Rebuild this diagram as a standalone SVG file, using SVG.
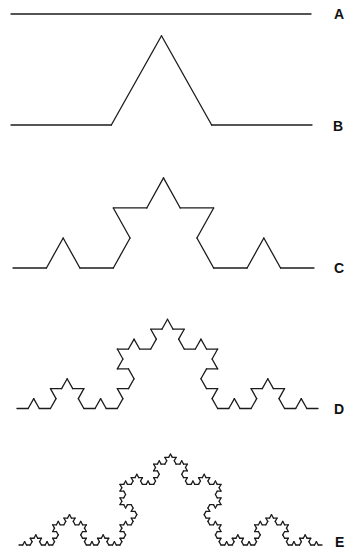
<svg xmlns="http://www.w3.org/2000/svg" xmlns:xlink="http://www.w3.org/1999/xlink" width="346" height="550" viewBox="0 0 346 550">
<style>
.seg{fill:none;stroke:#1c1c1c;stroke-width:1.3;stroke-linecap:round;vector-effect:non-scaling-stroke}
.lbl{font-family:"Liberation Sans",Arial,sans-serif;font-weight:bold;font-size:14px;fill:#111}
</style>
<defs>
<path id="k0" class="seg" d="M0 0H300"/>
<g id="k1">
<use href="#k0" transform="scale(0.333333)"/>
<use href="#k0" transform="translate(100 0) rotate(-60) scale(0.333333)"/>
<use href="#k0" transform="translate(150 -86.6025) rotate(60) scale(0.333333)"/>
<use href="#k0" transform="translate(200 0) scale(0.333333)"/>
</g>
<g id="k2">
<use href="#k1" transform="scale(0.333333)"/>
<use href="#k1" transform="translate(100 0) rotate(-60) scale(0.333333)"/>
<use href="#k1" transform="translate(150 -86.6025) rotate(60) scale(0.333333)"/>
<use href="#k1" transform="translate(200 0) scale(0.333333)"/>
</g>
<g id="k3">
<use href="#k2" transform="scale(0.333333)"/>
<use href="#k2" transform="translate(100 0) rotate(-60) scale(0.333333)"/>
<use href="#k2" transform="translate(150 -86.6025) rotate(60) scale(0.333333)"/>
<use href="#k2" transform="translate(200 0) scale(0.333333)"/>
</g>
<g id="k4">
<use href="#k3" transform="scale(0.333333)"/>
<use href="#k3" transform="translate(100 0) rotate(-60) scale(0.333333)"/>
<use href="#k3" transform="translate(150 -86.6025) rotate(60) scale(0.333333)"/>
<use href="#k3" transform="translate(200 0) scale(0.333333)"/>
</g>
</defs>
<rect width="346" height="550" fill="#fff"/>
<g id="curveA"><use href="#k0" transform="translate(11 14)"/><text class="lbl" x="334" y="19">A</text></g>
<g id="curveB"><use href="#k1" transform="translate(11 125) scale(1.0033 1.03)"/><text class="lbl" x="333" y="131">B</text></g>
<g id="curveC"><use href="#k2" transform="translate(13 268) scale(1.0033 1.04)"/><text class="lbl" x="334" y="273">C</text></g>
<g id="curveD"><use href="#k3" transform="translate(17 408.5) scale(1.0033 1.03)"/><text class="lbl" x="334" y="414">D</text></g>
<g id="curveE"><use href="#k4" transform="translate(19 545) scale(1.01 1.05)"/><text class="lbl" x="335" y="547">E</text></g>
</svg>
